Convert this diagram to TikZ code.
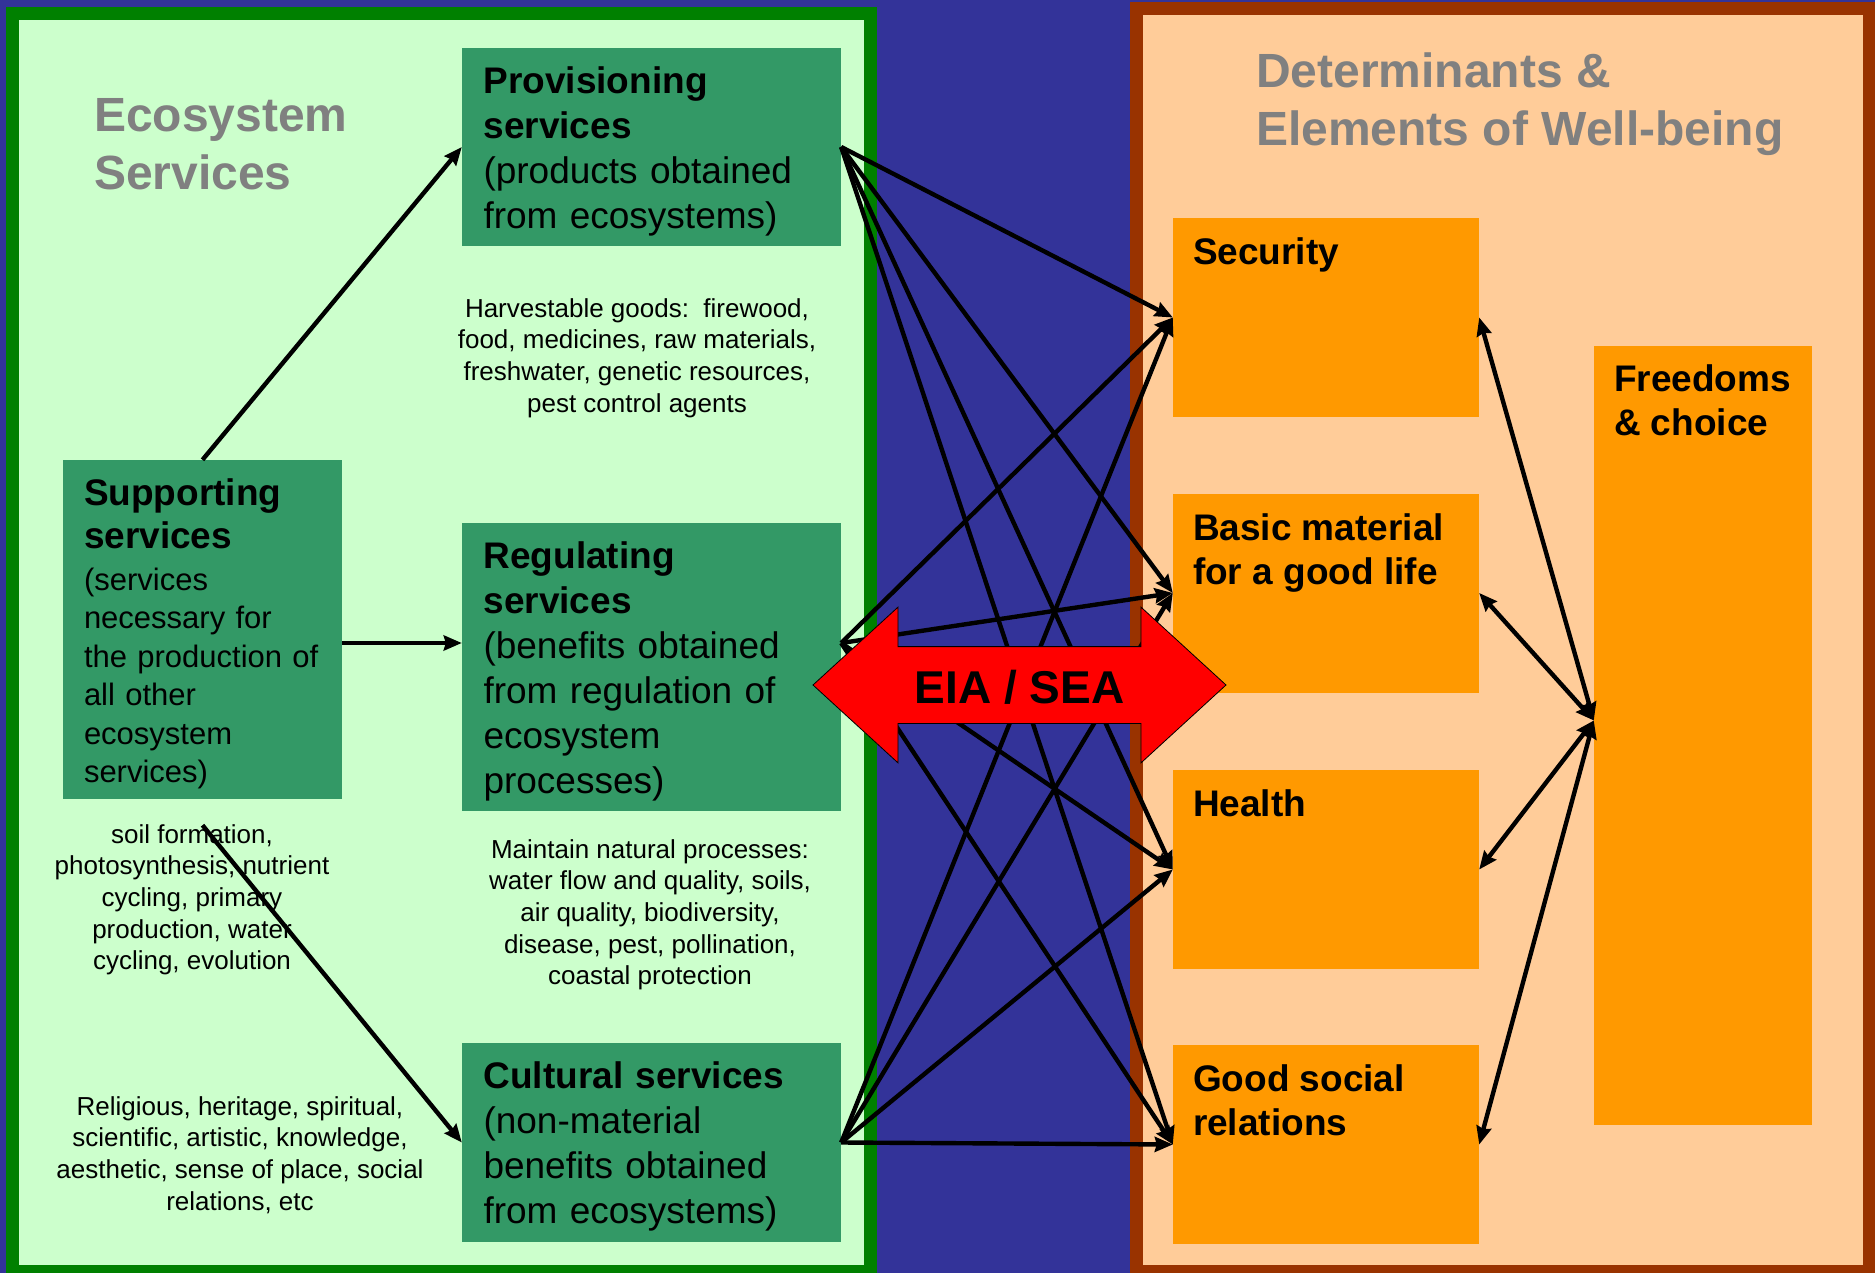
\documentclass[tikz,border=0pt]{standalone}
\usepackage{fontspec}
\setmainfont{Liberation Sans}
\usetikzlibrary{arrows.meta,shapes.arrows}
\definecolor{bgblue}{HTML}{333399}
\definecolor{frgreen}{HTML}{008000}
\definecolor{palegreen}{HTML}{CCFFCC}
\definecolor{svcgreen}{HTML}{339966}
\definecolor{frbrown}{HTML}{993300}
\definecolor{peach}{HTML}{FFCC99}
\definecolor{wborange}{HTML}{FF9900}
\definecolor{ttlgray}{HTML}{808080}
\newcommand{\svctop}{\rule{0pt}{35pt}}

\begin{document}
\begin{tikzpicture}[x=1pt, y=-1pt,
  >={Stealth[length=18pt,width=15pt,inset=2pt]},
  svc/.style={fill=svcgreen, inner sep=0pt, align=left, minimum width=379pt, text width=336pt, font=\fontsize{37}{45}\selectfont},
  wb/.style={fill=wborange, minimum width=306pt, minimum height=199pt, inner sep=0pt},
  wbtxt/.style={anchor=north west, inner sep=0pt, align=left, font=\fontsize{37}{44}\selectfont\bfseries},
  note/.style={anchor=north, inner sep=0pt, align=center, font=\fontsize{26}{31.7}\selectfont},
  ttl/.style={anchor=north west, inner sep=0pt, align=left, text=ttlgray, font=\fontsize{48}{58}\selectfont\bfseries},
  link/.style={line width=4.4pt, ->},
  dlink/.style={line width=4.4pt, <->},
  eiasea/.style={double arrow, draw=black, line width=0.8pt, fill=red, font=\fontsize{46}{46}\selectfont\bfseries,
    text height=40pt, text depth=4pt, inner ysep=16pt, inner xsep=0pt, minimum height=413pt,
    double arrow head extend=39.5pt, double arrow tip angle=85}]
\useasboundingbox (0,0) rectangle (1875,1273);
\fill[bgblue] (0,0) rectangle (1875,1273);
\draw[frgreen, line width=13pt, fill=palegreen] (12.5,14) rectangle (870.5,1271.5);
\draw[frbrown, line width=13pt, fill=peach] (1136.5,8.5) rectangle (1869,1271.5);

\node[ttl] (ecott) at (94,98) {Ecosystem\\Services};
\node[ttl] (wbtt) at (1256,53) {Determinants \&\\Elements of Well-being};

\node[svc, minimum height=198pt] (prov) at (651.5,147) {\svctop\textbf{Provisioning}\\\textbf{services}\\(products obtained\\from ecosystems)};
\node[svc, minimum height=288pt] (reg) at (651.5,667) {\svctop\textbf{Regulating}\\\textbf{services}\\(benefits obtained\\from regulation of\\ecosystem\\processes)};
\node[svc, minimum height=199pt] (cult) at (651.5,1142.5) {\svctop\textbf{Cultural services}\\(non-material\\benefits obtained\\from ecosystems)};
\node[svc, minimum width=279pt, text width=237pt, minimum height=339pt, font=\fontsize{31}{38.5}\selectfont] (sup) at (202.5,629.5)
  {\svctop{\fontsize{37}{43}\selectfont\bfseries Supporting\\services\par}\vspace{3.5pt}(services\\necessary for\\the production of\\all other\\ecosystem\\services)};

\node[note] (harv) at (637,298) {Harvestable goods:\ \ firewood,\\food, medicines, raw materials,\\freshwater, genetic resources,\\pest control agents};
\node[note] (soil) at (192,824) {soil formation,\\photosynthesis, nutrient\\cycling, primary\\production, water\\cycling, evolution};
\node[note] (maint) at (650,839) {Maintain natural processes:\\water flow and quality, soils,\\air quality, biodiversity,\\disease, pest, pollination,\\coastal protection};
\node[note] (relig) at (240,1096) {Religious, heritage, spiritual,\\scientific, artistic, knowledge,\\aesthetic, sense of place, social\\relations, etc};

\foreach \n/\y/\txt in {sec/317.5/Security, basic/593/{Basic material\\for a good life}, health/869.5/Health, social/1144.5/{Good social\\relations}} {
  \node[wb] (\n) at (1326,\y) {};
  \node[wbtxt] (t\n) at ([shift={(20,20)}]\n.north west) {\txt};
}
\node[wb, minimum width=218pt, minimum height=779pt] (free) at (1703,735.5) {};
\node[wbtxt] (tfree) at ([shift={(20,19)}]free.north west) {Freedoms\\\& choice};

\draw[link] (sup.north) -- (prov.west);
\draw[link] ([yshift=-13.5pt]sup.east) -- ([yshift=24pt]reg.west);
\draw[link] ([yshift=-26pt]sup.south) -- (cult.west);

\coordinate (regR) at ([yshift=24pt]reg.east);
\foreach \s in {prov.east,regR,cult.east}
  \foreach \n in {sec,basic,health,social}
    \draw[link] (\s) -- (\n.west);

\coordinate (freeL) at ([yshift=15pt]free.west);
\foreach \n in {sec,basic,health,social}
  \draw[dlink] (\n.east) -- (freeL);

\node[eiasea] (eia) at (1019.5,685) {EIA / SEA};
\end{tikzpicture}
\end{document}
